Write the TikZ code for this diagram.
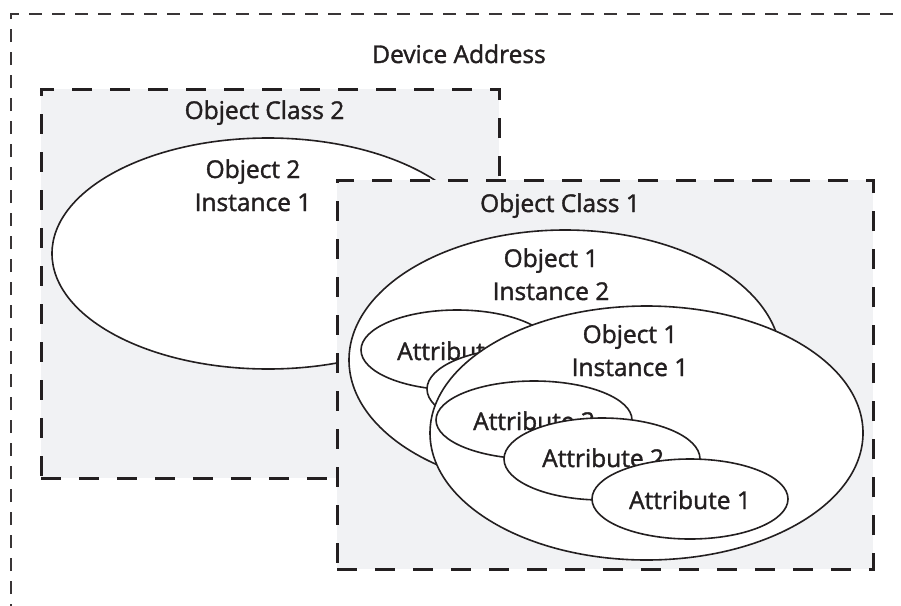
\documentclass[tikz,border=0pt]{standalone}
\usepackage{fontspec}
\setmainfont{Open Sans}
\newfontfamily\lblfont[FakeBold=1.5]{Open Sans}
\usetikzlibrary{shapes.geometric}
\definecolor{ink}{HTML}{231F20}
\definecolor{boxfill}{HTML}{F1F2F4}
\begin{document}
\begin{tikzpicture}[x=1pt,y=-1pt,
  outerbox/.style={draw=ink!90, line width=1.3pt, dash pattern=on 13pt off 10pt},
  classbox/.style={rectangle, draw=ink, fill=boxfill, line width=3pt, dash pattern=on 20pt off 18pt, inner sep=0pt, outer sep=0pt},
  obj/.style={ellipse, draw=ink, fill=white, line width=1.6pt, inner sep=0pt, outer sep=0pt},
  lbl/.style={text=ink, font=\lblfont\fontsize{24.5}{29}\selectfont, anchor=base, inner sep=0pt},
  lblw/.style={lbl, anchor=base west}
]
\useasboundingbox (0,0) rectangle (901,605);
\clip (0,0) rectangle (901,605);
\coordinate (ob1) at (11,640);
\coordinate (ob2) at (11,14);
\coordinate (ob3) at (940,14);
\draw[outerbox] (ob1) -- (ob2) -- (ob3);
\node[lbl] (dev) at (459,63) {Device Address};

\node[classbox, minimum width=458pt, minimum height=389pt] (c2) at (270,283.5) {};
\node[lbl] (c2t) at (264.5,119) {Object Class 2};
\node[obj, minimum width=432pt, minimum height=231pt] (o2) at (268,253.5) {};
\node[lbl] (o2a) at (253,178) {Object 2};
\node[lbl] (o2b) at (253,211) {Instance 1};

\node[classbox, minimum width=536pt, minimum height=389pt] (c1) at (605,374.5) {};
\node[lbl] (c1t) at (560,212) {Object Class 1};

\node[obj, minimum width=432pt, minimum height=260pt] (i2) at (565,360) {};
\node[lbl] (i2a) at (551,267) {Object 1};
\node[lbl] (i2b) at (551,300) {Instance 2};
\node[obj, minimum width=192pt, minimum height=80pt] (i2a3) at (457,350) {};
\node[lblw] (i2a3t) at (397,360) {Attribute 3};
\node[obj, minimum width=196pt, minimum height=82pt] (i2a2) at (525,389) {};

\node[obj, minimum width=433pt, minimum height=254pt] (i1) at (646.5,433) {};
\node[lbl] (i1a) at (630,343) {Object 1};
\node[lbl] (i1b) at (630,376) {Instance 1};
\node[obj, minimum width=196pt, minimum height=78pt] (i1a3) at (534,420) {};
\node[lblw] (i1a3t) at (473,430) {Attribute 3};
\node[obj, minimum width=196pt, minimum height=82pt] (i1a2) at (602,459) {};
\node[lblw] (i1a2t) at (542,467) {Attribute 2};
\node[obj, minimum width=196pt, minimum height=80pt] (i1a1) at (690,499) {};
\node[lbl] (i1a1t) at (690,509) {Attribute 1};
\end{tikzpicture}
\end{document}
